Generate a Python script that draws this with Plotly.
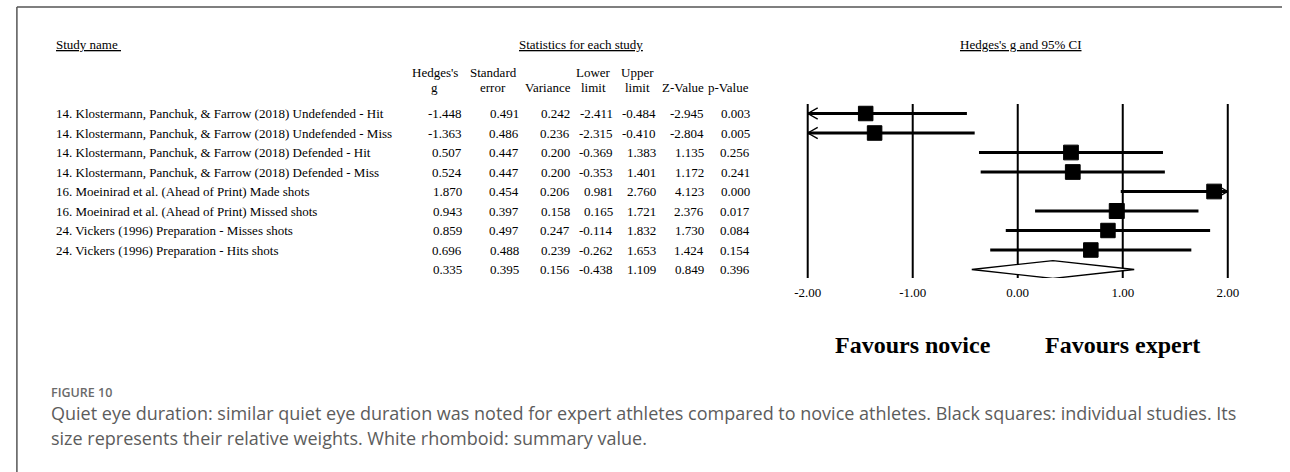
import plotly.graph_objects as go

# ---------------- data ----------------
studies = [
    "14. Klostermann, Panchuk, & Farrow (2018) Undefended - Hit",
    "14. Klostermann, Panchuk, & Farrow (2018) Undefended - Miss",
    "14. Klostermann, Panchuk, & Farrow (2018) Defended - Hit",
    "14. Klostermann, Panchuk, & Farrow (2018) Defended - Miss",
    "16. Moeinirad et al. (Ahead of Print) Made shots",
    "16. Moeinirad et al. (Ahead of Print) Missed shots",
    "24. Vickers (1996) Preparation - Misses shots",
    "24. Vickers (1996) Preparation - Hits shots",
]
hedges_g = [-1.448, -1.363, 0.507, 0.524, 1.870, 0.943, 0.859, 0.696]
std_err = [0.491, 0.486, 0.447, 0.447, 0.454, 0.397, 0.497, 0.488]
variance = [0.242, 0.236, 0.200, 0.200, 0.206, 0.158, 0.247, 0.239]
lower_lim = [-2.411, -2.315, -0.369, -0.353, 0.981, 0.165, -0.114, -0.262]
upper_lim = [-0.484, -0.410, 1.383, 1.401, 2.760, 1.721, 1.832, 1.653]
z_value = [-2.945, -2.804, 1.135, 1.172, 4.123, 2.376, 1.730, 1.424]
p_value = [0.003, 0.005, 0.256, 0.241, 0.000, 0.017, 0.084, 0.154]

summary_g = 0.335
summary_se = 0.395
summary_var = 0.156
summary_lower = -0.438
summary_upper = 1.109
summary_z = 0.849
summary_p = 0.396

axis_ticks = [-2, -1, 0, 1, 2]
axis_ticklabels = ["-2.00", "-1.00", "0.00", "1.00", "2.00"]

# ---------------- layout helpers ----------------
W, H = 1290, 472
SERIF = "Liberation Serif, Times New Roman, serif"
XMIN, XMAX = -2, 2
XPAD = 0.03            # small padding so the edge reference lines are not clipped
UNIT_PX = (1235 - 809) / (XMAX - XMIN)
TAU2 = 1.03  # between-study variance for random-effects weights (square size)


def px(x):
    return x / W


def py(y):
    return 1 - y / H


fig = go.Figure()

n = len(studies)
rows = list(range(n))
summary_row = n

# CI lines (clipped to the displayed range)
lx, ly = [], []
ax_x, ax_y = [], []
ARW = 0.095  # arrow arm length in data units
ARH = 0.29   # arrow half height in rows
for i in rows:
    lo = max(lower_lim[i], XMIN)
    hi = min(upper_lim[i], XMAX)
    lx += [lo, hi, None]
    ly += [i, i, None]
    if lower_lim[i] < XMIN:
        ax_x += [XMIN + ARW, XMIN, XMIN + ARW, None]
        ax_y += [i - ARH, i, i + ARH, None]
    if upper_lim[i] > XMAX:
        ax_x += [XMAX - ARW, XMAX, XMAX - ARW, None]
        ax_y += [i - ARH, i, i + ARH, None]

fig.add_trace(go.Scatter(x=lx, y=ly, mode="lines",
                         line=dict(color="black", width=3),
                         hoverinfo="skip", showlegend=False))
fig.add_trace(go.Scatter(x=ax_x, y=ax_y, mode="lines",
                         line=dict(color="black", width=1.4),
                         hoverinfo="skip", showlegend=False))

# squares sized by relative (random-effects) weight
wmax = max(1 / (v + TAU2) for v in variance)
sizes = [15 * ((1 / (v + TAU2)) / wmax) ** 0.5 for v in variance]
fig.add_trace(go.Scatter(x=hedges_g, y=rows, mode="markers",
                         marker=dict(symbol="square", size=sizes, color="black",
                                     opacity=1, line=dict(width=1, color="black")),
                         showlegend=False))

# summary diamond
DH = 0.46
fig.add_trace(go.Scatter(
    x=[summary_lower, summary_g, summary_upper, summary_g, summary_lower],
    y=[summary_row, summary_row - DH, summary_row, summary_row + DH, summary_row],
    mode="lines", fill="toself", fillcolor="white",
    line=dict(color="black", width=1.3), showlegend=False, hoverinfo="skip"))

# ---------------- axes ----------------
row_px0, row_step = 113.5, 19.5
top_px, bot_px = 104, 278
y_top = (top_px - row_px0) / row_step
y_bot = (bot_px - row_px0) / row_step

fig.update_xaxes(domain=[px(809 - UNIT_PX * XPAD), px(1235 + UNIT_PX * XPAD)],
                 range=[XMIN - XPAD, XMAX + XPAD],
                 tickvals=axis_ticks, ticktext=axis_ticklabels,
                 showgrid=False, zeroline=False, showline=False,
                 ticks="outside", ticklen=2, tickcolor="rgba(0,0,0,0)",
                 tickfont=dict(family=SERIF, size=13, color="black"))
fig.update_yaxes(domain=[py(bot_px), py(top_px)], range=[y_bot, y_top],
                 showgrid=False, zeroline=False, showticklabels=False,
                 showline=False)

# vertical reference lines at every tick
shapes = []
for t in axis_ticks:
    shapes.append(dict(type="line", xref="x", yref="y domain", x0=t, x1=t, y0=0, y1=1,
                       line=dict(color="black", width=2), layer="below"))

# ---------------- table text ----------------
ann = []
tfont = dict(family=SERIF, size=13, color="black")


def add(text, x, y, xanchor="left", yref="paper", xref="paper", font=tfont):
    ann.append(dict(text=text, x=x, y=y, xref=xref, yref=yref,
                    xanchor=xanchor, yanchor="middle", showarrow=False,
                    font=font))


# section titles
add("<u>Study name </u>", px(45), py(45))
add("<u>Statistics for each study</u>", px(579), py(45), xanchor="center")
add("<u>Hedges's g and 95% CI</u>", px(1025), py(45), xanchor="center")

# column headers
headers = [
    ("Hedges's", "g", 431),
    ("Standard", "error", 490),
    ("", "Variance", 546),
    ("Lower", "limit", 592),
    ("Upper", "limit", 636),
    ("", "Z-Value", 683),
    ("", "p-Value", 729),
]
for l1, l2, cx in headers:
    if l1:
        add(l1, px(cx), py(72), xanchor="center")
    add(l2, px(cx), py(88), xanchor="center")

col_right = [459, 517, 569, 613, 656, 705, 752]
columns = [hedges_g, std_err, variance, lower_lim, upper_lim, z_value, p_value]
summary_vals = [summary_g, summary_se, summary_var, summary_lower,
                summary_upper, summary_z, summary_p]

for i in rows:
    add(studies[i], px(45), i, yref="y")
    for c, col in enumerate(columns):
        add(f"{col[i]:.3f}", px(col_right[c] + 1), i, xanchor="right", yref="y")
for c, v in enumerate(summary_vals):
    add(f"{v:.3f}", px(col_right[c] + 1), summary_row, xanchor="right", yref="y")

# favours labels
bfont = dict(family=SERIF, size=24, color="black", weight="bold")
add("Favours novice", -1, py(345), xanchor="center", xref="x", font=bfont)
add("Favours expert", 1, py(345), xanchor="center", xref="x", font=bfont)

# caption
add("FIGURE 10", px(40), py(392),
    font=dict(family="Open Sans, sans-serif", size=12.5, color="#6a6a6a", weight=600))
cap1 = ("Quiet eye duration: similar quiet eye duration was noted for expert athletes "
        "compared to novice athletes. Black squares: individual studies. Its")
cap2 = "size represents their relative weights. White rhomboid: summary value."
capfont = dict(family="Open Sans, sans-serif", size=18, color="#5c5c5c")
add(cap1, px(40), py(413), font=capfont)
add(cap2, px(40), py(438), font=capfont)

# frame lines (top and left edge of the figure box)
shapes += [
    dict(type="line", xref="paper", yref="paper", x0=px(7), x1=1, y0=py(7), y1=py(7),
         line=dict(color="#555555", width=1.5)),
    dict(type="line", xref="paper", yref="paper", x0=px(7), x1=px(7), y0=py(7), y1=0,
         line=dict(color="#555555", width=1.5)),
]

fig.update_layout(width=W, height=H, margin=dict(l=0, r=0, t=0, b=0),
                  plot_bgcolor="white", paper_bgcolor="white",
                  annotations=ann, shapes=shapes, showlegend=False)

fig.write_html("out.html",
               config={"displayModeBar": False},
               post_script="document.body.style.margin='0';"
                           "document.body.style.overflow='hidden';")
